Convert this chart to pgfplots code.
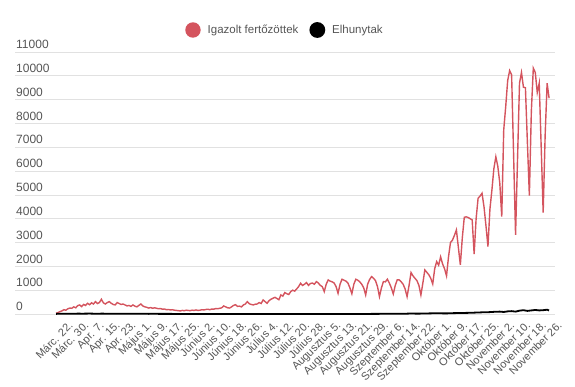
\documentclass[border=0pt]{standalone}
\usepackage{pgfplots}
\pgfplotsset{compat=1.18}
\usepackage{fontspec}
\setmainfont{Liberation Sans}
\definecolor{cred}{RGB}{212,84,94}
\definecolor{tickgray}{RGB}{85,85,85}
\definecolor{gridgray}{RGB}{225,225,225}
\begin{document}
\begin{tikzpicture}
\useasboundingbox (0,0) rectangle (575pt,387pt);
\begin{axis}[
  at={(15pt,73pt)}, anchor=south west,
  scale only axis, width=540pt, height=262pt,
  xmin=-22.8, xmax=251, ymin=0, ymax=11000,
  clip=false,
  scaled y ticks=false,
  axis line style={draw=none},
  major tick length=0pt,
  ymajorgrids, grid style={gridgray, line width=0.8pt},
  ytick={0,1000,2000,3000,4000,5000,6000,7000,8000,9000,10000,11000},
  yticklabels={0,1000,2000,3000,4000,5000,6000,7000,8000,9000,10000,11000},
  yticklabel style={anchor=south west, inner sep=0pt, xshift=1pt, yshift=3pt, text=tickgray, font=\fontsize{12}{14}\selectfont},
  xtick={0,8,...,248},
  xticklabels={Márc. 22.,Márc. 30.,Apr. 7.,Apr. 15.,Apr. 23.,Május 1.,Május 9.,Május 17.,Május 25.,Június 2.,Június 10.,Június 18.,Június 26.,Július 4.,Július 12.,Július 20.,Július 28.,Augusztus 5.,Augusztus 13.,Augusztus 21.,Augusztus 29.,Szeptember 6.,Szeptember 14.,Szeptember 22.,Október 1.,Október 9.,Október 17.,Október 25.,November 2.,November 10.,November 18.,November 26.},
  xticklabel style={rotate=45, anchor=north east, inner sep=0pt, xshift=1pt, yshift=-10pt, text=tickgray, font=\fontsize{11}{12}\selectfont},
  legend columns=2,
  legend style={at={(0.5,1.084)}, anchor=center, draw=none, fill=none, font=\fontsize{11.5}{13}\selectfont, text=tickgray,
    /tikz/every odd column/.append style={column sep=5pt},
    /tikz/every even column/.append style={column sep=9pt}},
  legend image code/.code={\fill[#1] (0pt,0pt) circle (7pt);},
]
\addplot[cred, line width=1.4pt] coordinates {
(-2,30)(-1,60)(0,100)(1,130)(2,180)(3,160)(4,220)(5,250)(6,240)(7,300)(8,260)(9,350)(10,380)(11,310)(12,400)(13,360)(14,450)(15,390)(16,470)(17,420)(18,520)(19,440)(20,480)(21,620)(22,470)(23,420)(24,480)(25,520)(26,450)(27,400)(28,380)(29,480)(30,440)(31,400)(32,420)(33,380)(34,340)(35,360)(36,320)(37,380)(38,330)(39,300)(40,360)(41,420)(42,340)(43,300)(44,280)(45,250)(46,270)(47,240)(48,260)(49,240)
(50,220)(51,230)(52,200)(53,210)(54,180)(55,190)(56,170)(57,180)(58,160)(59,150)(60,140)(61,130)(62,150)(63,140)(64,160)(65,150)(66,140)(67,160)(68,150)(69,170)(70,150)(71,160)(72,180)(73,170)(74,190)(75,200)(76,180)(77,210)(78,200)(79,230)(80,220)(81,240)(82,260)(83,340)(84,300)(85,260)(86,250)(87,300)(88,360)(89,390)(90,320)(91,330)(92,300)(93,380)(94,420)(95,520)(96,430)(97,400)(98,380)(99,410)
(100,420)(101,480)(102,440)(103,590)(104,520)(105,450)(106,560)(107,620)(108,660)(109,700)(110,650)(111,600)(112,800)(113,750)(114,900)(115,850)(116,820)(117,940)(118,1000)(119,960)(120,1050)(121,1150)(122,1290)(123,1200)(124,1250)(125,1320)(126,1200)(127,1280)(128,1300)(129,1250)(130,1360)(131,1300)(132,1200)(133,1150)(134,940)(135,1250)(136,1430)(137,1380)(138,1350)(139,1300)(140,1150)(141,870)(142,1250)(143,1460)(144,1420)(145,1380)(146,1300)(147,1100)(148,850)(149,1250)
(150,1460)(151,1420)(152,1350)(153,1250)(154,1100)(155,800)(156,1250)(157,1450)(158,1570)(159,1500)(160,1400)(161,1150)(162,730)(163,1100)(164,1360)(165,1350)(166,1460)(167,1300)(168,1100)(169,840)(170,1200)(171,1430)(172,1430)(173,1350)(174,1250)(175,1050)(176,730)(177,1200)(178,1740)(179,1600)(180,1500)(181,1400)(182,1200)(183,800)(184,1300)(185,1850)(186,1750)(187,1650)(188,1500)(189,1260)(190,1900)(191,2200)(192,2050)(193,2400)(194,2100)(195,1900)(196,1600)(197,2400)(198,3000)(199,3100)
(200,3300)(201,3530)(202,2800)(203,2060)(204,3200)(205,4060)(206,4080)(207,4050)(208,4000)(209,3950)(210,2520)(211,4000)(212,4860)(213,4950)(214,5070)(215,4500)(216,3700)(217,2830)(218,4400)(219,5200)(220,6100)(221,6600)(222,6200)(223,5500)(224,4090)(225,7730)(226,8700)(227,9800)(228,10220)(229,10040)(230,6700)(231,3320)(232,6500)(233,9690)(234,10140)(235,9520)(236,9500)(237,7200)(238,4970)(239,8500)(240,10320)(241,10140)(242,9300)(243,9690)(244,7000)(245,4260)(246,7500)(247,9690)(248,9060)
};
\addlegendentry{Igazolt fertőzöttek}
\addplot[black, line width=1.8pt] coordinates {
(-2,5)(0,10)(3,10)(6,12)(9,15)(12,14)(15,18)(18,12)(21,15)(24,14)(27,12)(30,10)(33,12)(36,10)(39,8)(42,10)(45,6)(48,8)(51,5)(54,6)(57,4)(60,3)(63,2)(66,3)(70,2)(75,1)(80,1)(85,2)(90,1)(95,0)(100,1)(105,2)(110,0)(115,1)(120,1)(125,0)(130,1)(135,1)(140,1)(145,2)(150,2)(155,3)(160,5)(165,8)(170,10)(175,12)(178,20)(181,15)(184,18)(187,25)(190,30)(193,28)(196,25)(199,35)(202,40)(205,45)(208,50)(211,60)(214,70)(217,75)(220,90)(223,100)(225,85)(227,110)(229,120)(231,100)(233,140)(235,160)(237,130)(239,150)(241,170)(243,150)(245,160)(247,180)(248,150)
};
\addlegendentry{Elhunytak}
\end{axis}
\end{tikzpicture}
\end{document}
